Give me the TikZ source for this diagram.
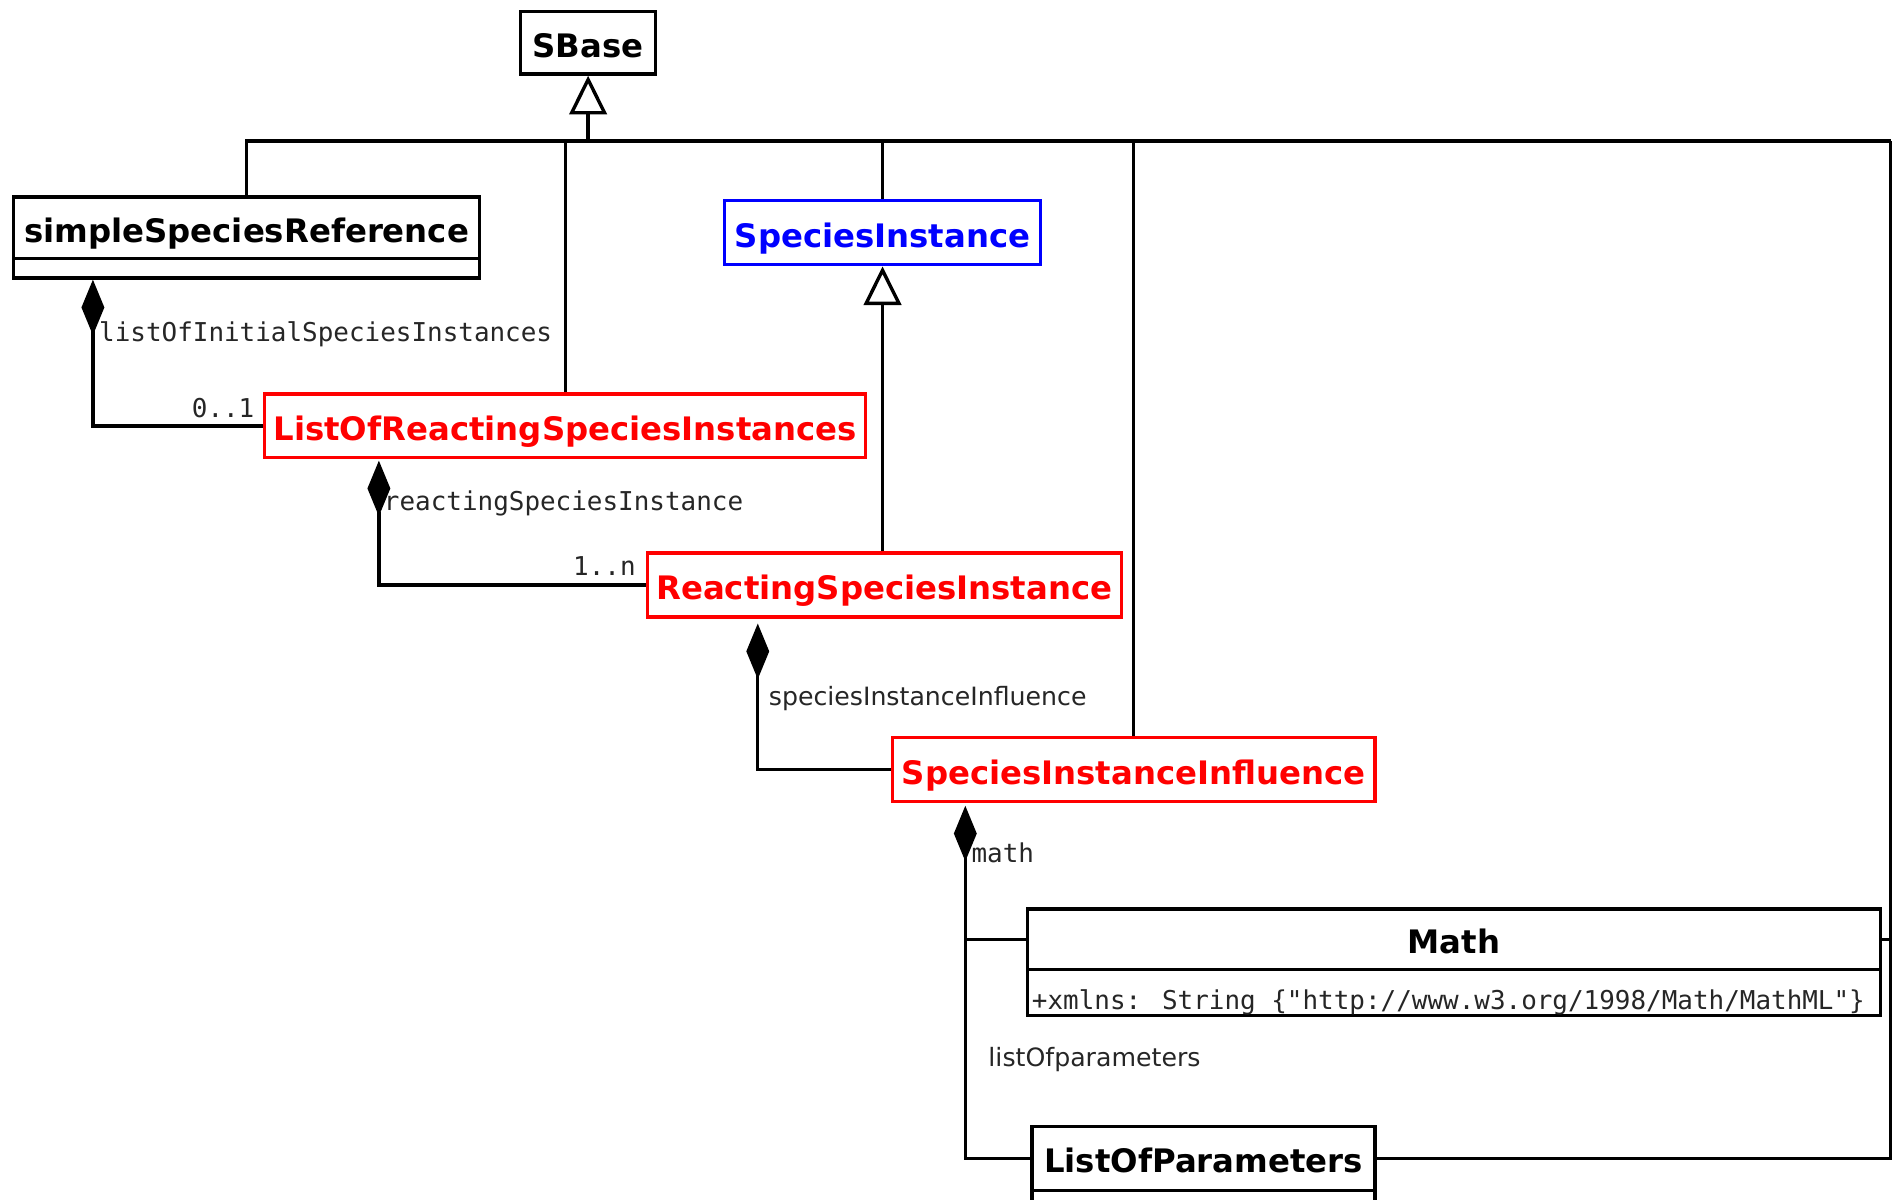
\documentclass[tikz,border=0pt]{standalone}
\usepackage{fontspec}
\setmainfont{DejaVu Sans}
\newfontfamily\monofam{DejaVu Sans Mono}
\usetikzlibrary{arrows.meta,calc}
\definecolor{umlred}{RGB}{255,0,0}
\definecolor{umlblue}{RGB}{0,0,255}
\begin{document}
\begin{tikzpicture}[x=1pt,y=-1pt,
  box/.style={draw=black,line width=2.8pt,inner sep=0pt,anchor=north west,
     text height=26pt,text depth=2pt,
     font=\fontsize{26.8}{28}\selectfont\bfseries,text=black},
  redbox/.style={box,draw=umlred,text=umlred},
  bluebox/.style={box,draw=umlblue,text=umlblue},
  conn/.style={line width=2.8pt,draw=black},
  gen/.style={conn,-{Triangle[open,fill=white,length=32pt,width=31pt,line width=2.8pt]}},
  comp/.style={conn,-{Diamond[length=46pt,width=19pt]}},
  mlabel/.style={font=\monofam\fontsize{21.5}{23}\selectfont,text=black!85,inner sep=0pt},
  slabel/.style={font=\fontsize{20.9}{22}\selectfont,text=black!85,inner sep=0pt},
]
\clip (0,0) rectangle (1568,994.5);
\fill[white] (0,0) rectangle (1568,994.5);

% classes
\node[box,minimum width=112pt,minimum height=52pt] (sbase) at (430,8) {SBase};
\node[box,minimum width=386pt,minimum height=51pt] (ssr) at (10,162) {simpleSpeciesReference};
\node[box,minimum width=386pt,minimum height=16pt,text height=0pt,text depth=0pt] (ssrb) at (10,213) {};
\node[bluebox,minimum width=262pt,minimum height=53pt] (si) at (599,165) {SpeciesInstance};
\node[redbox,minimum width=498pt,minimum height=53pt] (lrsi) at (218,325) {ListOfReactingSpeciesInstances};
\node[redbox,minimum width=393pt,minimum height=53pt] (rsi) at (535,457) {ReactingSpeciesInstance};
\node[redbox,minimum width=400pt,minimum height=53pt] (sii) at (738,610) {SpeciesInstanceInfluence};
\node[box,minimum width=707pt,minimum height=50pt] (math) at (850,752) {Math};
\node[box,minimum width=707pt,minimum height=38pt,text height=0pt,text depth=0pt] (mathb) at (850,802) {};
\node[box,minimum width=284pt,minimum height=53pt] (lop) at (854,932) {ListOfParameters};
\node[box,minimum width=284pt,minimum height=30pt,text height=0pt,text depth=0pt] (lopb) at (854,985) {};
\node[mlabel,anchor=base west] (attr) at (855,837) {+xmlns: String \{"http://www.w3.org/1998/Math/MathML"\}};

% inheritance bus
\coordinate (bus) at (486,117);
\coordinate (busR) at (1567,117);
\draw[conn] (ssr.north) |- (busR);
\draw[conn] (lrsi.north) -- (lrsi.north |- bus);
\draw[conn] (si.north) -- (si.north |- bus);
\draw[conn] (sii.north) -- (sii.north |- bus);
\draw[conn] (lop.east) -| (busR);
\draw[conn] (math.east) -- ++(15,0);
\draw[gen] (sbase.south |- bus) -- (sbase.south);
\draw[gen] (si.south |- rsi.north) -- (si.south);

% compositions
\coordinate (d1) at ([xshift=67pt]ssrb.south west);
\coordinate (d2) at ([xshift=96pt,yshift=-1pt]lrsi.south west);
\coordinate (d3) at ([xshift=93pt,yshift=-4pt]rsi.south west);
\coordinate (d4) at ([xshift=62pt,yshift=-2pt]sii.south west);
\draw[comp] (lrsi.west) -| (d1);
\draw[comp] (rsi.west) -| (d2);
\draw[comp] (sii.west) -| (d3);
\draw[comp] (math.west) -| (d4);
\draw[conn] (lop.west) -| (d4 |- math.west);

% labels
\node[mlabel,anchor=base west] (l1) at (82,283) {listOfInitialSpeciesInstances};
\node[mlabel,anchor=base east] (m1) at (211,346) {0..1};
\node[mlabel,anchor=base west] (l2) at (318,423) {reactingSpeciesInstance};
\node[mlabel,anchor=base east] (m2) at (527,477) {1..n};
\node[slabel,anchor=base west] (l3) at (637,585) {speciesInstanceInfluence};
\node[mlabel,anchor=base west] (l4) at (805,715) {math};
\node[slabel,anchor=base west] (l5) at (819,884) {listOfparameters};
\end{tikzpicture}
\end{document}
